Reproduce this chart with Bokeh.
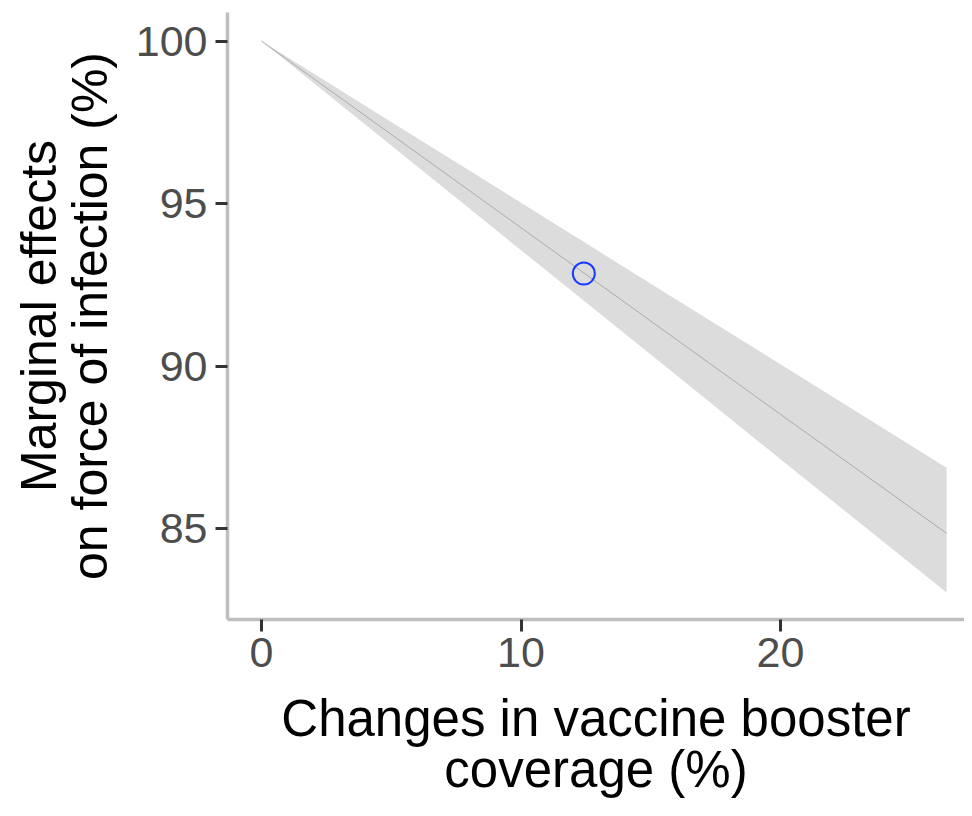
from bokeh.plotting import figure
from bokeh.models import Range1d, FixedTicker
from bokeh.embed import file_html
from bokeh.resources import INLINE

# Data
x_vals = [0, 5, 10, 15, 20, 26.4]
fit_vals = [100.0, 97.13, 94.26, 91.39, 88.52, 84.86]
upper_vals = [100.0, 97.51, 95.03, 92.54, 90.06, 86.88]
lower_vals = [100.0, 96.79, 93.57, 90.36, 87.14, 83.04]
point_x = [12.42]
point_y = [92.85]
x_ticks = [0, 10, 20]
y_ticks = [85, 90, 95, 100]

FONT = "Liberation Sans"

p = figure(width=964, height=800, output_backend="svg", toolbar_location=None,
           x_range=Range1d(-1.31, 27.09), y_range=Range1d(82.21, 100.88),
           min_border_left=227, min_border_right=0, min_border_top=12,
           min_border_bottom=172)

p.grid.visible = False
p.outline_line_color = None
p.background_fill_color = "white"
p.border_fill_color = "white"

p.varea(x=x_vals, y1=lower_vals, y2=upper_vals, fill_color="#dcdcdc", fill_alpha=1.0)
p.line(x_vals, fit_vals, line_color="#ababab", line_width=1)
p.scatter(point_x, point_y, size=22, fill_color=None, line_color="#1a3cff", line_width=2)

p.xaxis.ticker = FixedTicker(ticks=x_ticks)
p.yaxis.ticker = FixedTicker(ticks=y_ticks)

for ax in (p.xaxis[0], p.yaxis[0]):
    ax.axis_line_color = "#bebebe"
    ax.axis_line_width = 3.5
    ax.major_tick_line_color = "#333333"
    ax.major_tick_line_width = 3
    ax.major_tick_out = 12
    ax.major_tick_in = 0
    ax.minor_tick_line_color = None
    ax.major_label_text_font = FONT
    ax.major_label_text_font_size = "43px"
    ax.major_label_text_color = "#4d4d4d"
    ax.axis_label_text_font = FONT
    ax.axis_label_text_font_style = "normal"
    ax.axis_label_text_color = "black"
    ax.axis_label_text_line_height = 0.9

p.xaxis.axis_label_text_font_size = "51px"
p.yaxis.axis_label_text_font_size = "50px"
p.xaxis.axis_label_standoff = 20
p.yaxis.axis_label_standoff = 15
p.xaxis.major_label_standoff = 6
p.yaxis.major_label_standoff = 8
p.xaxis.axis_label = "Changes in vaccine booster\ncoverage (%)"
p.yaxis.axis_label = "Marginal effects\non force of infection (%)"

open("out.html", "w").write(file_html(p, INLINE))
